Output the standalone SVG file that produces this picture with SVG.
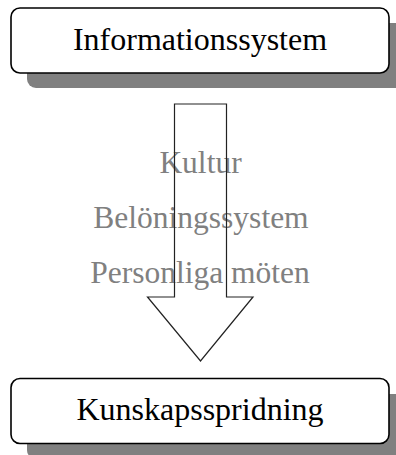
<svg xmlns="http://www.w3.org/2000/svg" width="396" height="455" viewBox="0 0 396 455">
  <style>
    .shadow { fill: #808080; }
    .box { fill: #ffffff; stroke: #000000; stroke-width: 1.6; }
    .label { font-family: "Liberation Serif", "Times New Roman", serif; font-size: 32px; fill: #000000; text-anchor: middle; }
    .factor { font-family: "Liberation Serif", "Times New Roman", serif; font-size: 31.5px; fill: #808080; text-anchor: middle; }
    .flow { fill: none; stroke: #222222; stroke-width: 1.2; stroke-linejoin: miter; }
  </style>

  <rect width="396" height="455" fill="#ffffff"/>

  <!-- source node -->
  <g id="informationssystem">
    <rect class="shadow" x="27" y="23" width="378" height="65" rx="9" ry="9"/>
    <rect class="box" x="11" y="8" width="378" height="65" rx="9" ry="9"/>
    <text class="label" x="200" y="50">Informationssystem</text>
  </g>

  <!-- target node -->
  <g id="kunskapsspridning">
    <rect class="shadow" x="27" y="394" width="378" height="65" rx="9" ry="9"/>
    <rect class="box" x="11" y="378.5" width="378" height="65" rx="9" ry="9"/>
    <text class="label" x="200" y="420">Kunskapsspridning</text>
  </g>

  <!-- factors along the flow -->
  <g id="factors">
    <text class="factor" x="200.5" y="173">Kultur</text>
    <text class="factor" x="201" y="228">Belöningssystem</text>
    <text class="factor" x="200" y="283">Personliga möten</text>
  </g>

  <!-- block arrow between the nodes -->
  <g id="connectors">
    <path class="flow" d="M174.5,104 L226.5,104 L226.5,297 L253,297 L200.5,361 L147.5,297 L174.5,297 Z"/>
  </g>
</svg>
